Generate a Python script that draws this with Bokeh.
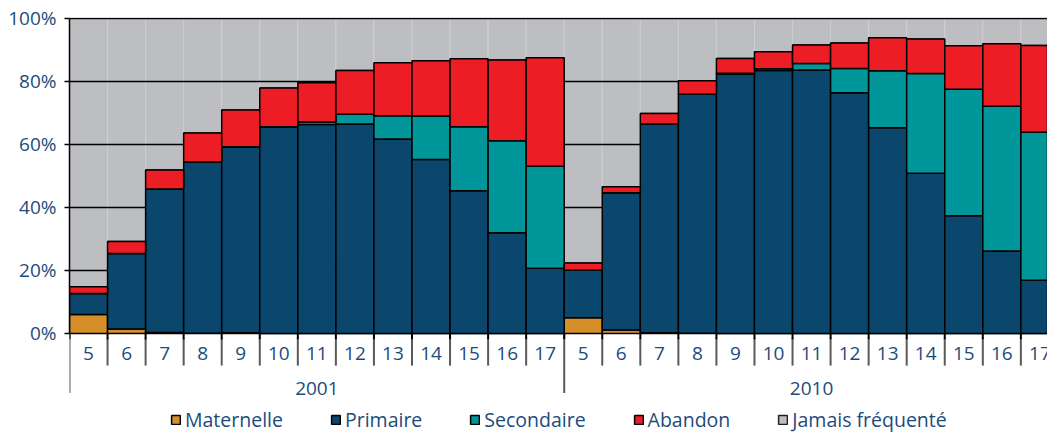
from bokeh.plotting import figure
from bokeh.models import Range1d, FixedTicker, PrintfTickFormatter, Legend, LegendItem
from bokeh.embed import file_html
from bokeh.resources import INLINE
from bokeh.core.properties import value
import numpy as np

# ---------------- data ----------------
years = ["2001", "2010"]
ages = ["5", "6", "7", "8", "9", "10", "11", "12", "13", "14", "15", "16", "17"]
series_names = ["Maternelle", "Primaire", "Secondaire", "Abandon", "Jamais fréquenté"]

maternelle_2001 = [6.0, 1.4, 0.3, 0.1, 0.2, 0, 0, 0, 0, 0, 0, 0, 0]
primaire_2001 = [6.7, 24.0, 45.6, 54.3, 59.1, 65.6, 66.3, 66.5, 61.7, 55.2, 45.3, 32.0, 20.7]
secondaire_2001 = [0, 0, 0, 0, 0, 0, 0.8, 3.1, 7.4, 13.8, 20.3, 29.2, 32.4]
abandon_2001 = [2.1, 3.8, 6.0, 9.2, 11.6, 12.3, 12.5, 13.9, 16.8, 17.6, 21.6, 25.6, 34.4]

maternelle_2010 = [5.0, 1.1, 0.2, 0.1, 0, 0, 0, 0, 0, 0, 0, 0, 0]
primaire_2010 = [15.1, 43.6, 66.3, 75.8, 82.3, 83.5, 83.6, 76.4, 65.3, 50.9, 37.4, 26.2, 16.9]
secondaire_2010 = [0, 0, 0, 0, 0.3, 0.5, 2.1, 7.7, 18.1, 31.6, 40.1, 45.9, 47.0]
abandon_2010 = [2.3, 1.9, 3.3, 4.3, 4.7, 5.4, 5.9, 8.1, 10.5, 11.0, 13.8, 19.9, 27.5]

y_ticks = [0, 20, 40, 60, 80, 100]

# ---------------- styles ----------------
colors = ["#D68F29", "#0B466C", "#00969A", "#EC1D25", "#BDBEC1"]
text_color = "#1c4c7c"
FONT = "Open Sans"

# ---------------- derived ----------------
layers = [
    np.array(maternelle_2001 + maternelle_2010, dtype=float),
    np.array(primaire_2001 + primaire_2010, dtype=float),
    np.array(secondaire_2001 + secondaire_2010, dtype=float),
    np.array(abandon_2001 + abandon_2010, dtype=float),
]
total = sum(layers)
jamais = 100.0 - total
n_age = len(ages)
n = n_age * len(years)
x = np.arange(n)
age_labels = ages * len(years)

p = figure(width=1047, height=433, output_backend="svg", toolbar_location=None,
           x_range=Range1d(-0.5, 25.2), y_range=Range1d(-31.75, 100.3),
           x_axis_location=None, min_border_left=69, min_border_right=0,
           min_border_top=17, min_border_bottom=0)
p.outline_line_color = None
p.xgrid.visible = False
p.ygrid.visible = False
p.background_fill_color = "white"

yax = p.yaxis[0]
yax.ticker = FixedTicker(ticks=y_ticks)
yax.formatter = PrintfTickFormatter(format="%d%%")
yax.bounds = (0, 100)
yax.axis_line_color = "black"
yax.axis_line_width = 1.5
yax.major_tick_out = 5
yax.major_tick_in = 0
yax.major_tick_line_color = "black"
yax.major_tick_line_width = 1.5
yax.minor_tick_line_color = None
yax.major_label_standoff = 8
yax.major_label_text_font = FONT
yax.major_label_text_font_size = "19px"
yax.major_label_text_color = text_color

# never attended (grey, top of stack)
p.vbar(x=x, width=1.0, bottom=total, top=total + jamais, fill_color=colors[4],
       line_color="#cdced0", line_width=1)

# horizontal grid lines over grey, under coloured bars
p.hspan(y=y_ticks[1:], line_color="black", line_width=1.5)

# legend swatch for the grey layer (zero-height at the top of each stack, hidden under outlines)
r_grey = p.vbar(x=x, width=1.0, bottom=total, top=total, fill_color=colors[4],
                line_color="#222222", line_width=1.5)

renderers = []
bottom = np.zeros(n)
for vals, col in zip(layers, colors[:4]):
    r = p.vbar(x=x, width=1.0, bottom=bottom, top=bottom + vals, fill_color=col,
               line_color="black", line_width=1.5)
    renderers.append(r)
    bottom = bottom + vals
renderers.append(r_grey)

# category separators under the axis
LABEL_Y = -6.3
YEAR_Y = -17.5
SEP_Y = -10.2
GROUP_SEP_Y = -18.9
inner = np.array([i - 0.5 for i in range(1, n) if i % n_age != 0])
groups = np.array([g * n_age - 0.5 for g in range(len(years) + 1)])
p.segment(x0=inner, y0=np.full(len(inner), -1.5), x1=inner, y1=np.full(len(inner), SEP_Y),
          line_color="#5a5a5a", line_width=2)
p.segment(x0=inner, y0=np.zeros(len(inner)), x1=inner, y1=np.full(len(inner), -1.8),
          line_color="black", line_width=2)
p.segment(x0=groups, y0=np.zeros(len(groups)), x1=groups, y1=np.full(len(groups), GROUP_SEP_Y),
          line_color="#5a5a5a", line_width=2)
p.segment(x0=groups, y0=np.zeros(len(groups)), x1=groups, y1=np.full(len(groups), -1.8),
          line_color="black", line_width=2)

# age labels
p.text(x=x, y=np.full(n, LABEL_Y), text=age_labels, text_align="center",
       text_baseline="middle", text_font=value(FONT), text_font_size="19px",
       text_color=text_color)
# year labels
year_x = np.array([g * n_age + (n_age - 1) / 2 for g in range(len(years))])
p.text(x=year_x, y=np.full(len(years), YEAR_Y), text=years, text_align="center",
       text_baseline="middle", text_font=value(FONT), text_font_size="19px",
       text_color=text_color)

legend = Legend(items=[LegendItem(label=nm, renderers=[r]) for nm, r in zip(series_names, renderers)],
                orientation="horizontal", location=(101, 0), spacing=47, padding=0, margin=0,
                glyph_width=11, glyph_height=11, label_standoff=4, label_height=20,
                label_text_font=FONT, label_text_font_size="19.5px", label_text_color=text_color,
                border_line_color=None, background_fill_alpha=0)
p.add_layout(legend, "center")

open("out.html", "w").write(file_html(p, INLINE))
